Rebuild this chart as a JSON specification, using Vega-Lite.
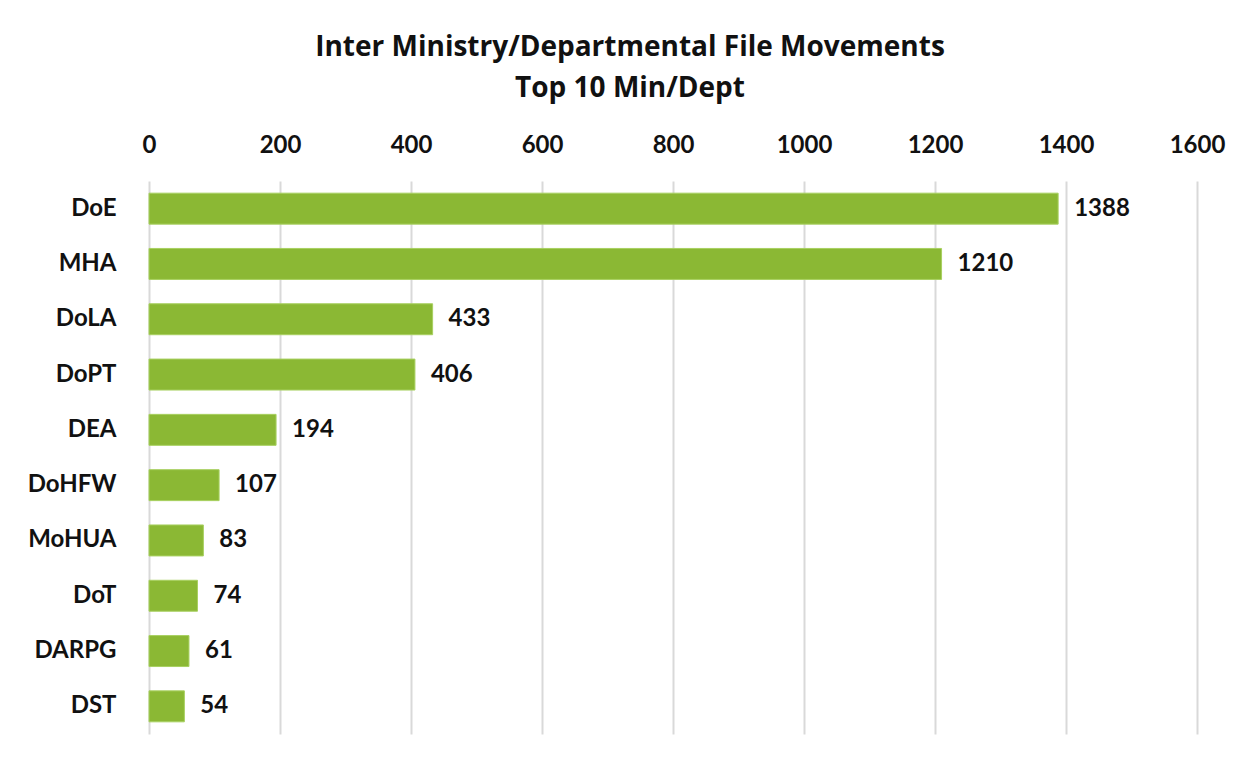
{
  "$schema": "https://vega.github.io/schema/vega-lite/v6.json",
  "autosize": "none",
  "width": 1048,
  "height": 553,
  "padding": {"left": 149, "top": 181, "right": 56, "bottom": 26},
  "background": "white",
  "title": {
    "text": ["Inter Ministry/Departmental File Movements", "Top 10 Min/Dept"],
    "font": "Open Sans",
    "fontSize": 28,
    "fontWeight": "bold",
    "color": "#111111",
    "lineHeight": 41,
    "anchor": "middle",
    "dx": -43,
    "offset": 30
  },
  "data": {
    "values": [
      {"dept": "DoE", "files": 1388},
      {"dept": "MHA", "files": 1210},
      {"dept": "DoLA", "files": 433},
      {"dept": "DoPT", "files": 406},
      {"dept": "DEA", "files": 194},
      {"dept": "DoHFW", "files": 107},
      {"dept": "MoHUA", "files": 83},
      {"dept": "DoT", "files": 74},
      {"dept": "DARPG", "files": 61},
      {"dept": "DST", "files": 54}
    ]
  },
  "encoding": {
    "y": {
      "field": "dept",
      "type": "nominal",
      "sort": "-x",
      "title": null,
      "scale": {"paddingInner": 0.44, "paddingOuter": 0.22},
      "axis": {
        "ticks": false,
        "domain": false,
        "labelPadding": 33,
        "labelFont": "Lato",
        "labelFontSize": 24,
        "labelFontWeight": "bold",
        "labelColor": "#111111"
      }
    },
    "x": {
      "field": "files",
      "type": "quantitative",
      "title": null,
      "scale": {"domain": [0, 1600], "nice": false},
      "axis": {
        "orient": "top",
        "values": [0, 200, 400, 600, 800, 1000, 1200, 1400, 1600],
        "format": "d",
        "ticks": false,
        "domain": false,
        "grid": true,
        "gridColor": "#d9d9d9",
        "gridWidth": 2,
        "labelPadding": 24,
        "labelFont": "Lato",
        "labelFontSize": 24,
        "labelFontWeight": "bold",
        "labelColor": "#111111",
        "labelFlush": false
      }
    }
  },
  "layer": [
    {
      "mark": {"type": "bar", "color": "#8bb834", "stroke": "#a8d060", "strokeWidth": 1}
    },
    {
      "mark": {
        "type": "text",
        "align": "left",
        "baseline": "middle",
        "dx": 16,
        "font": "Lato",
        "fontSize": 24,
        "fontWeight": "bold",
        "color": "#111111"
      },
      "encoding": {"text": {"field": "files", "type": "quantitative", "format": "d"}}
    }
  ],
  "config": {"view": {"stroke": null}}
}
